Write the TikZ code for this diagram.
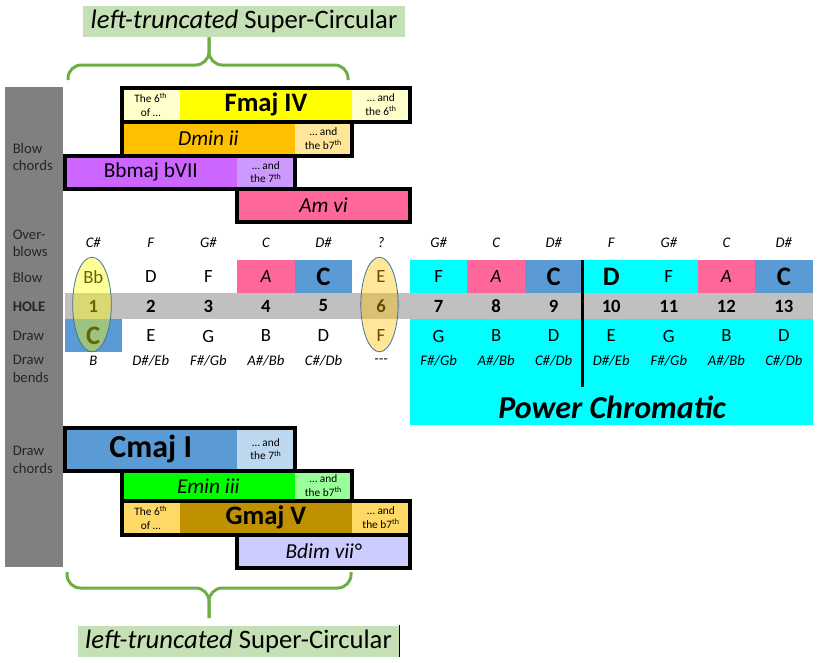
\documentclass[tikz,border=0pt]{standalone}
\usepackage{fontspec}
\setmainfont{Carlito}
\usepackage{tikz}
\usetikzlibrary{calc, shapes.geometric}

\definecolor{sidegray}{HTML}{808080}
\definecolor{holegray}{HTML}{C0C0C0}
\definecolor{powercyan}{HTML}{00FFFF}
\definecolor{amcol}{HTML}{FF6699}
\definecolor{cmajcol}{HTML}{5B9BD5}
\definecolor{cmajlight}{HTML}{BDD7EE}
\definecolor{fmajcol}{HTML}{FFFF00}
\definecolor{fmajlight}{HTML}{FFFFCC}
\definecolor{dmincol}{HTML}{FFC000}
\definecolor{dminlight}{HTML}{FFE699}
\definecolor{bbcol}{HTML}{CC66FF}
\definecolor{bblight}{HTML}{CC99FF}
\definecolor{emincol}{HTML}{00FF00}
\definecolor{eminlight}{HTML}{99FF99}
\definecolor{gmajcol}{HTML}{BF9000}
\definecolor{gmajlight}{HTML}{FFD966}
\definecolor{bdimcol}{HTML}{CCCCFF}
\definecolor{titlegreen}{HTML}{C5E0B4}
\definecolor{bracegreen}{HTML}{70AD47}
\definecolor{ringline}{HTML}{41719C}

\newcommand{\bigfont}{\fontsize{20}{22}\selectfont\bfseries}

\tikzset{
  sidelabel/.style={anchor=west, align=left, inner sep=0pt, text=black!85, font=\fontsize{11}{13}\selectfont},
  notetext/.style={font=\fontsize{14}{16}\selectfont},
  smalltext/.style={font=\fontsize{11}{13}\selectfont\itshape},
  holetext/.style={font=\fontsize{14}{16}\selectfont\bfseries},
  chordrm/.style={font=\fontsize{16}{18}\selectfont},
  chordit/.style={font=\fontsize{16}{18}\selectfont\itshape},
  chordbf/.style={font=\fontsize{20}{22}\selectfont\bfseries},
  chordhuge/.style={font=\fontsize{24}{26}\selectfont\bfseries},
  remark/.style={align=center, inner sep=0pt, font=\fontsize{8.5}{10}\selectfont},
  chordline/.style={draw=black, line width=3pt},
  ring/.style={ellipse, draw=ringline, line width=0.6pt, fill opacity=0.4, minimum width=29pt, minimum height=71pt, inner sep=0pt},
  bracket/.style={draw=bracegreen, line width=2.25pt, rounded corners=10pt},
  titlebox/.style={fill=titlegreen, minimum width=241.5pt, minimum height=23.25pt, inner sep=0pt, font=\fontsize{20}{22}\selectfont}
}

% one coloured part of a chord bar: name, first hole, last hole, top, bottom, fill, style, text
\newcommand{\chordcell}[8]{
    \fill[#6] ({6.95+57.55*#2}, #4) rectangle ({64.5+57.55*#3}, #5);
    \node[#7] (#1) at ({35.725+28.775*(#2+#3)}, {(#4+#5)/2}) {#8};
}
% black frame round a chord bar: first hole, last hole, top, bottom
\newcommand{\chordframe}[4]{
    \draw[chordline] ({6.95+57.55*#1}, #3) rectangle ({64.5+57.55*#2}, #4);
}

\begin{document}
\begin{tikzpicture}[x=0.75pt, y=-0.75pt]
        \useasboundingbox (0,0) rectangle (818,662);

        % 1. Side column with the row names
        \fill[sidegray] (5,87) rectangle (63,567);
        \foreach \y/\txt in {157/{Blow\\chords}, 243/{Over-\\blows}, 277/Blow, 307/{\textbf{HOLE}},
                             336/Draw, 369/{Draw\\bends}, 460/{Draw\\chords}} {
            \node[sidelabel] (side\y) at (12.5,\y) {\txt};
        }

        % 2. Power Chromatic area and the hole band
        \fill[powercyan] (409.8,260) rectangle (812.7,425);
        \fill[holegray] (64.5,293) rectangle (812.7,318.5);
        \foreach \i in {4,8,12} {
            \fill[amcol] ({6.95+57.55*\i},260) rectangle ({64.5+57.55*\i},293);
        }
        \foreach \i in {5,9,13} {
            \fill[cmajcol] ({6.95+57.55*\i},260) rectangle ({64.5+57.55*\i},293);
        }
        \fill[cmajcol] (64.5,318.5) rectangle (122.05,351.5);
        \draw[line width=2.5pt] (582.5,260) -- (582.5,387);
        \node[font=\fontsize{24}{28}\selectfont\bfseries\itshape] (power) at (612,407) {Power Chromatic};

        % 3. Notes of each hole
        \foreach \i/\ob/\bl/\dr/\db in {
            1/C\#/Bb/{\bigfont C}/B, 2/F/D/E/{D\#/Eb}, 3/G\#/F/G/{F\#/Gb},
            4/C/{\itshape A}/B/{A\#/Bb}, 5/D\#/{\bigfont C}/D/{C\#/Db}, 6/?/E/F/{-{}-{}-},
            7/G\#/F/G/{F\#/Gb}, 8/C/{\itshape A}/B/{A\#/Bb}, 9/D\#/{\bigfont C}/D/{C\#/Db},
            10/F/{\bigfont D}/E/{D\#/Eb}, 11/G\#/F/G/{F\#/Gb}, 12/C/{\itshape A}/B/{A\#/Bb},
            13/D\#/{\bigfont C}/D/{C\#/Db}
        } {
            \node[smalltext] (over\i) at ({35.725+57.55*\i}, 243) {\ob};
            \node[notetext] (blow\i) at ({35.725+57.55*\i}, 277) {\bl};
            \node[holetext] (hole\i) at ({35.725+57.55*\i}, 306) {\i};
            \node[notetext] (draw\i) at ({35.725+57.55*\i}, 336) {\dr};
            \node[smalltext] (bend\i) at ({35.725+57.55*\i}, 361) {\db};
        }

        % 4. Rings round holes 1 and 6
        \node[ring, fill=fmajcol] (ring1) at (92,304.5) {};
        \node[ring, fill=dmincol, minimum width=28pt] (ring6) at (379.5,304.5) {};

        % 5. Blow chords
        \chordcell{fmajL}{2}{2}{88}{121.5}{fmajlight}{remark}{The 6\textsuperscript{th}\\of \dots}
        \chordcell{fmaj}{3}{5}{88}{121.5}{fmajcol}{chordbf}{Fmaj IV}
        \chordcell{fmajR}{6}{6}{88}{121.5}{fmajlight}{remark}{\dots{} and\\the 6\textsuperscript{th}}
        \chordcell{dmin}{2}{4}{121.5}{155.5}{dmincol}{chordit}{Dmin ii}
        \chordcell{dminR}{5}{5}{121.5}{155.5}{dminlight}{remark}{\dots{} and\\the b7\textsuperscript{th}}
        \chordcell{bbmaj}{1}{3}{155.5}{189}{bbcol}{chordrm}{Bbmaj bVII}
        \chordcell{bbmajR}{4}{4}{155.5}{189}{bblight}{remark}{\dots{} and\\the 7\textsuperscript{th}}
        \chordcell{amin}{4}{6}{189}{221.5}{amcol}{chordit}{Am vi}
        \chordframe{2}{6}{88}{121.5}
        \chordframe{2}{5}{121.5}{155.5}
        \chordframe{1}{4}{155.5}{189}
        \chordframe{4}{6}{189}{221.5}

        % 6. Draw chords
        \chordcell{cmaj}{1}{3}{428}{470.5}{cmajcol}{chordhuge}{Cmaj I}
        \chordcell{cmajR}{4}{4}{428}{470.5}{cmajlight}{remark}{\dots{} and\\the 7\textsuperscript{th}}
        \chordcell{emin}{2}{4}{470.5}{501}{emincol}{chordit}{Emin iii}
        \chordcell{eminR}{5}{5}{470.5}{501}{eminlight}{remark}{\dots{} and\\the b7\textsuperscript{th}}
        \chordcell{gmajL}{2}{2}{501}{534.5}{gmajlight}{remark}{The 6\textsuperscript{th}\\of \dots}
        \chordcell{gmaj}{3}{5}{501}{534.5}{gmajcol}{chordbf}{Gmaj V}
        \chordcell{gmajR}{6}{6}{501}{534.5}{gmajlight}{remark}{\dots{} and\\the b7\textsuperscript{th}}
        \chordcell{bdim}{4}{6}{534.5}{568}{bdimcol}{chordit}{Bdim vii°}
        \chordframe{1}{4}{428}{470.5}
        \chordframe{2}{5}{470.5}{501}
        \chordframe{2}{6}{501}{534.5}
        \chordframe{4}{6}{534.5}{568}

        % 7. Titles and braces
        \node[titlebox] (toptitle) at (244,21.5) {\textit{left-truncated} Super-Circular};
        \node[titlebox] (bottitle) at (238.5,641) {\textit{left-truncated} Super-Circular};
        \draw[line width=0.6pt] (bottitle.north east) -- (bottitle.south east);

        \coordinate (braceTL) at (68,80);
        \coordinate (braceTR) at (348,80);
        \coordinate (braceTM) at (209,65);
        \draw[bracket] (braceTL) |- (braceTM) -- (toptitle.south -| braceTM);
        \draw[bracket] (braceTR) |- (braceTM) -- (toptitle.south -| braceTM);

        \coordinate (braceBL) at (67,572);
        \coordinate (braceBR) at (351,572);
        \coordinate (braceBM) at (209,588);
        \coordinate (braceBT) at (209,618);
        \draw[bracket] (braceBL) |- (braceBM) -- (braceBT);
        \draw[bracket] (braceBR) |- (braceBM) -- (braceBT);

\end{tikzpicture}
\end{document}
